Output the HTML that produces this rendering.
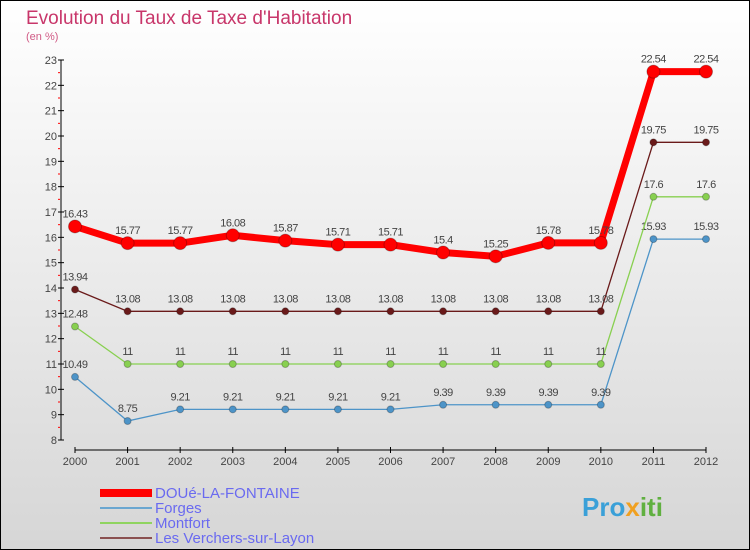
<!DOCTYPE html>
<html><head><meta charset="utf-8"><style>
body{margin:0}
#c{position:relative;width:750px;height:550px;box-sizing:border-box;border:1px solid #000;background:linear-gradient(#fff,#d6d6d6);overflow:hidden;font-family:"Liberation Sans",sans-serif}
</style></head><body>
<div id="c">
<svg width="750" height="550" style="position:absolute;left:-1px;top:-1px" id="svg">
<text x="26" y="24" font-size="19" fill="#c8366a">Evolution du Taux de Taxe d'Habitation</text>
<text x="26" y="40" font-size="11" fill="#d05a85">(en %)</text>
<g id="axes"></g><g id="series"></g>
<g>
<rect x="100" y="489" width="52" height="8" fill="#f00"/>
<text x="155" y="498" font-size="15" fill="#6a6af0">DOUé-LA-FONTAINE</text>
<rect x="100" y="507" width="52" height="2" fill="#6aa6d0"/>
<text x="155" y="513" font-size="15" fill="#6a6af0">Forges</text>
<rect x="100" y="522" width="52" height="2" fill="#8fd460"/>
<text x="155" y="528" font-size="15" fill="#6a6af0">Montfort</text>
<rect x="100" y="537" width="52" height="2" fill="#8a5050"/>
<text x="155" y="543" font-size="15" fill="#6a6af0">Les Verchers-sur-Layon</text>
</g>
<text x="582" y="516" font-size="26" font-weight="bold" fill="#3aa0d8">Pro<tspan fill="#f0a020">x</tspan><tspan fill="#60b040">iti</tspan></text>
</svg>
</div>
<script>
const years=["2000","2001","2002","2003","2004","2005","2006","2007","2008","2009","2010","2011","2012"];
const yTicks=[8,9,10,11,12,13,14,15,16,17,18,19,20,21,22,23];
const doue=[16.43,15.77,15.77,16.08,15.87,15.71,15.71,15.4,15.25,15.78,15.78,22.54,22.54];
const forges=[10.49,8.75,9.21,9.21,9.21,9.21,9.21,9.39,9.39,9.39,9.39,15.93,15.93];
const montfort=[12.48,11,11,11,11,11,11,11,11,11,11,17.6,17.6];
const verchers=[13.94,13.08,13.08,13.08,13.08,13.08,13.08,13.08,13.08,13.08,13.08,19.75,19.75];
const NS="http://www.w3.org/2000/svg";
function X(i){return 75+i*(706-75)/(years.length-1);}
function Y(v){return 440-(v-8)*380/15;}
function mk(tag,attrs,parent){const e=document.createElementNS(NS,tag);for(const k in attrs)e.setAttribute(k,attrs[k]);parent.appendChild(e);return e;}
const ax=document.getElementById('axes');
let yl=mk('line',{x1:61,y1:Y(23),x2:61,y2:Y(8),stroke:'#000','stroke-width':1},ax);


yTicks.forEach(t=>{
 let l=mk('line',{x1:58,x2:64,y1:Y(t),y2:Y(t),stroke:'#000'},ax);
 
 
 if(t<23){let m=mk('line',{x1:58,x2:60,y1:Y(t+0.5),y2:Y(t+0.5),stroke:'#f00'},ax);
 
 }
 let tx=mk('text',{x:57,y:Y(t)+4,'font-size':11,fill:'#444','text-anchor':'end'},ax);
 tx.textContent=t;
 
 
});
let xl=mk('line',{x1:X(0),x2:X(years.length-1),y1:450,y2:450,stroke:'#000'},ax);


years.forEach((y,i)=>{
 let l=mk('line',{x1:X(i),x2:X(i),y1:447,y2:453,stroke:'#000'},ax);
 
 
 let tx=mk('text',{x:X(i),y:465,'font-size':11,fill:'#444','text-anchor':'middle'},ax);
 tx.textContent=y;
 
 
});
const sg=document.getElementById('series');
function draw(vals,color,w,r,name,lab){
 const g=mk('g',{},sg);
 
 
 let p=mk('polyline',{points:vals.map((v,i)=>X(i)+','+Y(v)).join(' '),fill:'none',stroke:color,'stroke-width':w},g);
 
 
 vals.forEach((v,i)=>{
  let c=mk('circle',{cx:X(i),cy:Y(v),r:r,fill:color,stroke:'rgba(0,0,0,0.25)'},g);
  
  
  let t=mk('text',{x:X(i),y:Y(v)-9,'font-size':11,fill:'#444','text-anchor':'middle','letter-spacing':'-0.5'},g);
  t.textContent=lab(v);
  
  
 });
}
const f=v=>String(v);
draw(forges,'#4d94c8',1.3,3.5,'forges',f);
draw(montfort,'#88d050',1.3,3.5,'montfort',f);
draw(verchers,'#6a1a1a',1.3,3.5,'verchers',f);
draw(doue,'#f00',7,6.5,'doue',f);
</script>
</body></html>
